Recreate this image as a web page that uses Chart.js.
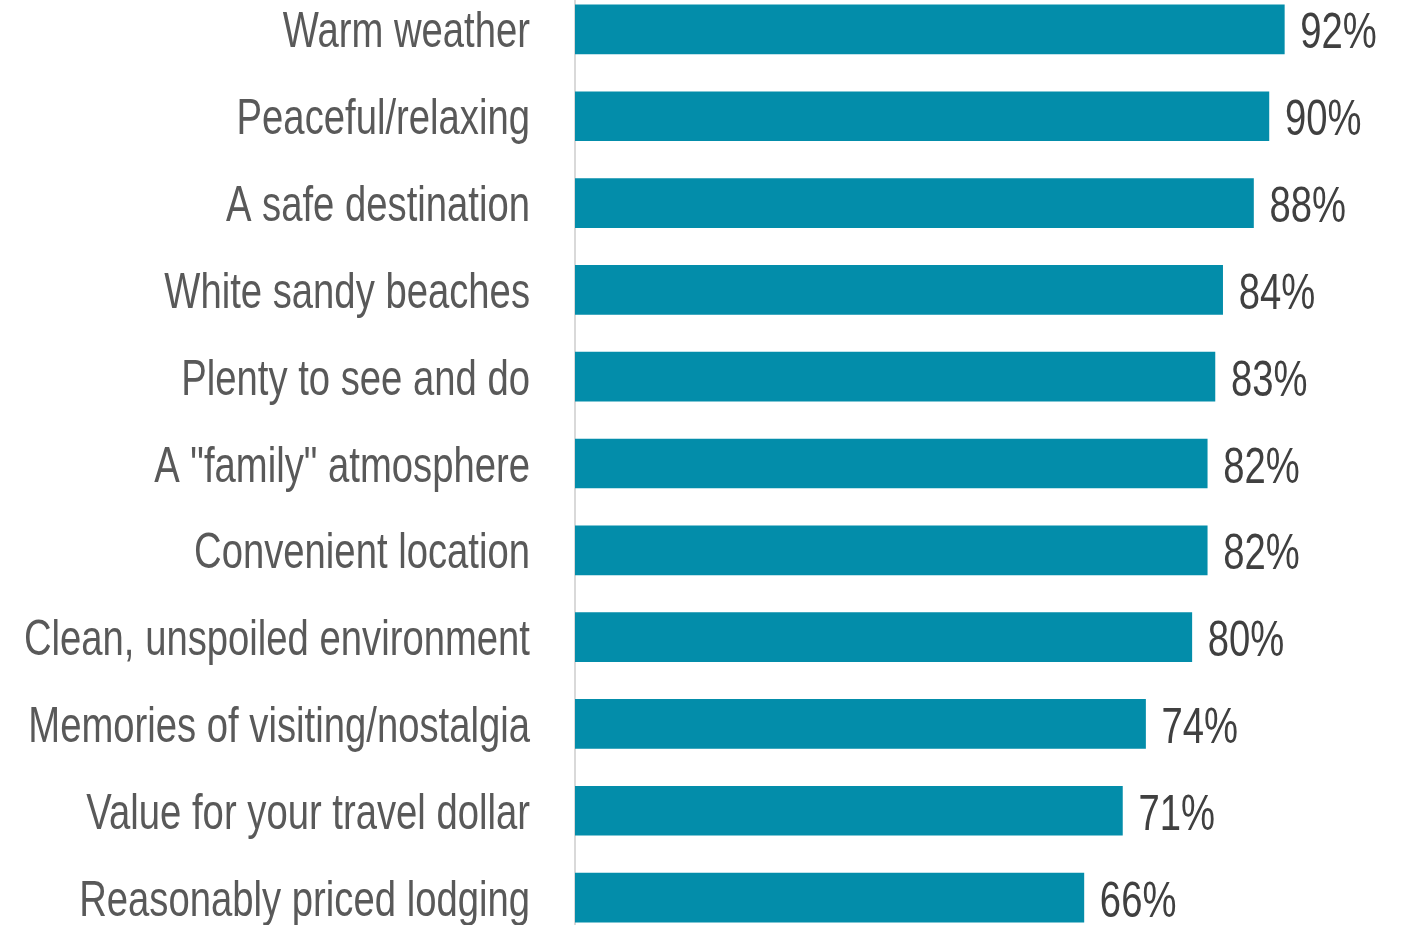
<!DOCTYPE html>
<html>
<head>
<meta charset="utf-8">
<script src="https://cdn.jsdelivr.net/npm/chart.js@4/dist/chart.umd.min.js"></script>
<style>
    html, body { margin: 0; padding: 0; background: #fff; overflow: hidden; }
    #wrap { position: absolute; left: 0; top: -14px; width: 1409px; height: 955px; }
</style>
</head>
<body>
<div id="wrap"><canvas id="chart"></canvas></div>
<script>
const categories = [
    'Warm weather',
    'Peaceful/relaxing',
    'A safe destination',
    'White sandy beaches',
    'Plenty to see and do',
    'A "family" atmosphere',
    'Convenient location',
    'Clean, unspoiled environment',
    'Memories of visiting/nostalgia',
    'Value for your travel dollar',
    'Reasonably priced lodging'
];
const percentages = [92, 90, 88, 84, 83, 82, 82, 80, 74, 71, 66];

// no narrow face installed, so squeeze a regular sans horizontally
const FONT = "50px 'Liberation Sans', Arial, sans-serif";
const SQUEEZE = 0.765;

function drawNarrow(ctx, text, x, y, align) {
    ctx.save();
    ctx.translate(x, y);
    ctx.scale(SQUEEZE, 1);
    ctx.textAlign = align;
    ctx.fillText(text, 0, 0);
    ctx.restore();
}

// category names on the left and percentages after each bar
const narrowLabels = {
    id: 'narrowLabels',
    afterDatasetsDraw(chart) {
        const ctx = chart.ctx;
        const meta = chart.getDatasetMeta(0);
        const left = chart.chartArea.left;
        ctx.save();
        ctx.font = FONT;
        ctx.textBaseline = 'alphabetic';
        meta.data.forEach((bar, i) => {
            const base = bar.y + 18;
            ctx.fillStyle = '#595959';
            drawNarrow(ctx, categories[i], left - 45, base, 'right');
            ctx.fillStyle = '#404040';
            drawNarrow(ctx, percentages[i] + '%', bar.x + 16, base + 1, 'left');
        });
        ctx.restore();
    }
};

new Chart(document.getElementById('chart'), {
    type: 'bar',
    data: {
        labels: categories,
        datasets: [{
            data: percentages,
            backgroundColor: '#038DAA',
            borderWidth: 0,
            barThickness: 49,
            categoryPercentage: 1
        }]
    },
    options: {
        indexAxis: 'y',
        responsive: true,
        maintainAspectRatio: false,
        animation: false,
        layout: {
            padding: { left: 0, right: 63, top: 0, bottom: 0 }
        },
        plugins: {
            legend: { display: false },
            tooltip: { enabled: false }
        },
        scales: {
            x: {
                display: false,
                min: 0,
                max: 100
            },
            y: {
                afterFit(scale) {
                    scale.width = 575;
                    scale.paddingTop = 0;
                    scale.paddingBottom = 0;
                },
                grid: { display: false, drawTicks: false },
                border: { display: true, color: '#d9d9d9', width: 2 },
                ticks: { display: false }
            }
        }
    },
    plugins: [narrowLabels]
});
</script>
</body>
</html>
